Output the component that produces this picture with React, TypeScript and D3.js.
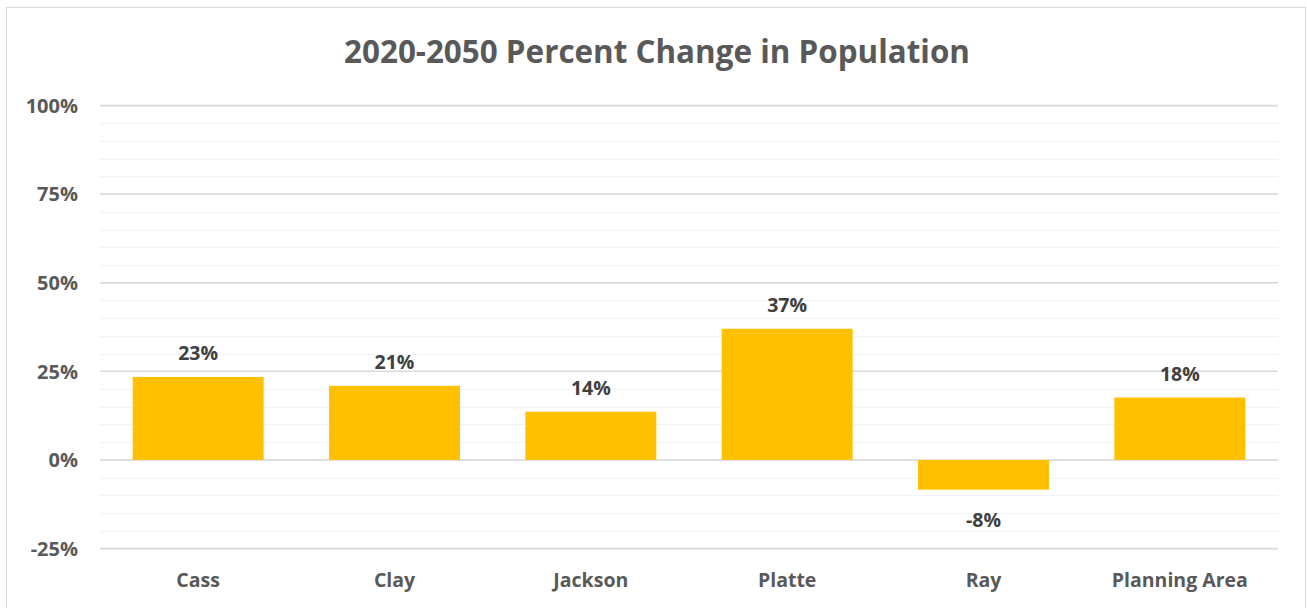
import React from 'react'
import * as d3 from 'd3'

const categories = ['Cass', 'Clay', 'Jackson', 'Platte', 'Ray', 'Planning Area']
const changes = [0.234, 0.209, 0.136, 0.37, -0.084, 0.176]
const majorTicks = [-0.25, 0, 0.25, 0.5, 0.75, 1]
const minorTicks = d3.range(-0.25, 1.0001, 0.05)

const W = 1307
const H = 608
const font = '"Open Sans", Lato, sans-serif'

// hyphen instead of unicode minus, like the original
const pct = (v: number) => d3.format('.0%')(v).replace('\u2212', '-')

const App: React.FC = () => {
  const left = 100
  const right = 1278
  const x = d3.scaleBand<string>().domain(categories).range([left, right]).paddingInner(0.333).paddingOuter(0.1665)
  const y = d3.scaleLinear().domain([-0.25, 1]).range([548.5, 105.5])

  return (
    <svg width={W} height={H} style={{ position: 'absolute', left: 0, top: 0, background: '#fff' }}>
      <rect x={6.5} y={7.5} width={1299} height={620} fill="#fff" stroke="#d9d9d9" />
      <text x={657} y={63} textAnchor="middle" fontFamily={font} fontWeight="bold" fontSize={31.4} fill="#595959">
        2020-2050 Percent Change in Population
      </text>
      {minorTicks.map((t, i) => (
        <line key={'m' + i} x1={left} x2={right} y1={Math.round(y(t)) + 0.5} y2={Math.round(y(t)) + 0.5} stroke="#f2f2f2" strokeWidth={1.2} />
      ))}
      {majorTicks.map((t) => (
        <g key={t}>
          <line x1={left} x2={right} y1={y(t)} y2={y(t)} stroke="#d9d9d9" strokeWidth={1.5} />
          <text x={78} y={y(t)} dy="0.36em" textAnchor="end" fontFamily={font} fontWeight="bold" fontSize={20} fill="#595959">
            {pct(t)}
          </text>
        </g>
      ))}
      {categories.map((c, i) => {
        const v = changes[i]
        const y0 = y(0)
        const y1 = y(v)
        const cx = (x(c) ?? 0) + x.bandwidth() / 2
        return (
          <g key={c}>
            <rect x={x(c)} y={Math.min(y0, y1)} width={x.bandwidth()} height={Math.abs(y1 - y0)} fill="#FFC000" />
            <text x={cx} y={v >= 0 ? y1 - 17 : y1 + 37} textAnchor="middle" fontFamily={font} fontWeight="bold" fontSize={19.5} fill="#404040">
              {pct(v)}
            </text>
            <text x={cx} y={587} textAnchor="middle" fontFamily={font} fontWeight="bold" fontSize={19.5} fill="#595959">
              {c}
            </text>
          </g>
        )
      })}
    </svg>
  )
}

export default App
